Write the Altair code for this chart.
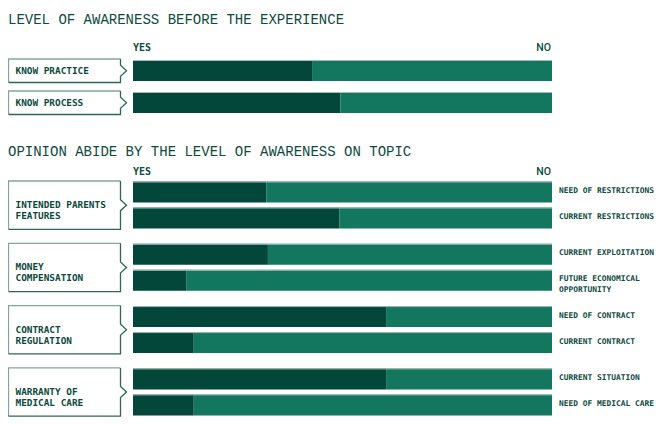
import altair as alt
import pandas as pd

# ---------------- data ----------------
title_top = "LEVEL OF AWARENESS BEFORE THE EXPERIENCE"
title_bottom = "OPINION ABIDE BY THE LEVEL OF AWARENESS ON TOPIC"
scale_labels = ["YES", "NO"]

top_groups = ["KNOW PRACTICE", "KNOW PROCESS"]
top_yes = [42.9, 49.5]

bottom_groups = ["INTENDED PARENTS\nFEATURES", "MONEY\nCOMPENSATION",
                 "CONTRACT\nREGULATION", "WARRANTY OF\nMEDICAL CARE"]
bottom_items = [["NEED OF RESTRICTIONS", "CURRENT RESTRICTIONS"],
                ["CURRENT EXPLOITATION", "FUTURE ECONOMICAL\nOPPORTUNITY"],
                ["NEED OF CONTRACT", "CURRENT CONTRACT"],
                ["CURRENT SITUATION", "NEED OF MEDICAL CARE"]]
bottom_yes = [[31.8, 49.3], [32.2, 12.8], [60.4, 14.5], [60.4, 14.5]]

# ---------------- layout ----------------
W, H = 649, 409
BAR_RANGE = [125, 544]
BAR_H = 21
TOP_FIRST, TOP_STEP = 52, 32
BOT_FIRST, GROUP_STEP, ITEM_STEP = 173.5, 62.3, 26
BOX_X0, BOX_X1, CHEV_W, CHEV_H = 0.5, 112.5, 6, 5.5
LABEL_X = 7
RIGHT_X = 551
TITLE1_Y, YES1_Y = 11.5, 39.7
TITLE2_Y, YES2_Y = 144, 164.3

DARK = "#03473a"
LIGHT = "#13765f"
TEXT = "#0d4a3e"
EDGE = "#a3bdb4"
BOX_LIGHT = "#7fa79a"
BOX_DARK = "#2f6656"

# build tables
bars, boxes, left_labels, right_labels = [], [], [], []

def add_group(gid, label, tops, values, items, pad_top, pad_bot):
    for t, v, it in zip(tops, values, items):
        bars.append(dict(top=t, bottom=t + BAR_H, yes=v, zero=0, hundred=100))
        if it is not None:
            right_labels.append(dict(x=RIGHT_X, y=t + BAR_H / 2 - 1, text=it))
    top = tops[0] - pad_top
    bot = tops[-1] + BAR_H + pad_bot
    mid = (top + bot) / 2
    light_pts = [(BOX_X0, bot), (BOX_X0, top), (BOX_X1, top)]
    dark_pts = [(BOX_X1, top), (BOX_X1, mid - CHEV_H), (BOX_X1 + CHEV_W, mid),
                (BOX_X1, mid + CHEV_H), (BOX_X1, bot), (BOX_X0, bot)]
    for i, (x, y) in enumerate(light_pts):
        boxes.append(dict(id=f"{gid}L", i=i, x=x, y=y, col=BOX_LIGHT))
    for i, (x, y) in enumerate(dark_pts):
        boxes.append(dict(id=f"{gid}D", i=i, x=x, y=y, col=BOX_DARK))
    left_labels.append(dict(x=LABEL_X + BOX_X0, y=mid, text=label))

for g, (lab, v) in enumerate(zip(top_groups, top_yes)):
    add_group(f"t{g}", lab, [TOP_FIRST + g * TOP_STEP], [v], [None], 1, 1.5)

for g, (lab, vals, its) in enumerate(zip(bottom_groups, bottom_yes, bottom_items)):
    t0 = BOT_FIRST + g * GROUP_STEP
    add_group(f"b{g}", lab, [t0 + k * ITEM_STEP for k in range(len(vals))], vals, its, 0.5, 0.8)

bars_df = pd.DataFrame(bars)
boxes_df = pd.DataFrame(boxes)
left_df = pd.DataFrame(left_labels)
right_df = pd.DataFrame(right_labels)

titles_df = pd.DataFrame([dict(x=0, y=TITLE1_Y, text=title_top),
                          dict(x=0, y=TITLE2_Y, text=title_bottom)])
yes_df = pd.DataFrame([dict(x=BAR_RANGE[0], y=YES1_Y, text=scale_labels[0]),
                       dict(x=BAR_RANGE[0], y=YES2_Y, text=scale_labels[0])])
no_df = pd.DataFrame([dict(x=BAR_RANGE[1] - 1, y=YES1_Y, text=scale_labels[1]),
                      dict(x=BAR_RANGE[1] - 1, y=YES2_Y, text=scale_labels[1])])

xscale = alt.Scale(domain=[0, 100], range=BAR_RANGE)
py = alt.Y("top:Q", scale=None)

base = alt.Chart(bars_df)
dark = base.mark_rect(color=DARK).encode(
    x=alt.X("zero:Q", scale=xscale, axis=None), x2="yes:Q", y=py, y2="bottom:Q")
light = base.mark_rect(color=LIGHT).encode(
    x=alt.X("yes:Q", scale=xscale, axis=None), x2="hundred:Q", y=py, y2="bottom:Q")
edge = base.mark_rule(color=EDGE, strokeWidth=1, yOffset=0.5).encode(
    x=alt.X("zero:Q", scale=xscale, axis=None), x2="hundred:Q", y=py)

box_lines = alt.Chart(boxes_df).mark_line(strokeWidth=1.3, strokeJoin="miter").encode(
    x=alt.X("x:Q", scale=None), y=alt.Y("y:Q", scale=None),
    color=alt.Color("col:N", scale=None), detail="id:N", order="i:Q")

def text_layer(df, **kw):
    return alt.Chart(df).mark_text(color=TEXT, baseline="middle", lineBreak="\n", **kw).encode(
        x=alt.X("x:Q", scale=None), y=alt.Y("y:Q", scale=None), text="text:N")

titles = text_layer(titles_df, align="left", font="Liberation Mono", fontSize=14)
yes_t = text_layer(yes_df, align="left", font="DejaVu Sans Mono", fontSize=10, fontWeight="bold")
no_t = text_layer(no_df, align="right", font="Roboto", fontSize=10.5, fontWeight=500)
left_t = text_layer(left_df, align="left", font="DejaVu Sans Mono", fontSize=9.4,
                    fontWeight="bold", lineHeight=11)
right_t = text_layer(right_df, align="left", font="DejaVu Sans Mono", fontSize=7.9,
                     fontWeight="bold", lineHeight=10.4)

chart = alt.layer(dark, light, edge, box_lines, titles, yes_t, no_t, left_t, right_t).properties(
    width=W, height=H, autosize=alt.AutoSizeParams(type="none"), padding=0,
    background="white"
).configure_view(stroke=None)

chart.save("out.html", embed_options={"renderer": "svg", "actions": False})
